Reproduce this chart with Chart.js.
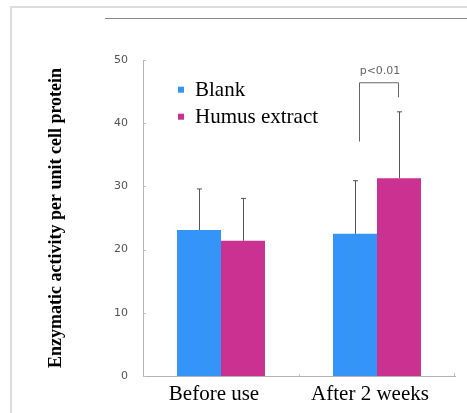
<!DOCTYPE html>
<html>
<head>
<meta charset="utf-8">
<script src="https://cdn.jsdelivr.net/npm/chart.js@4.4.1/dist/chart.umd.min.js"></script>
<style>
  html, body { margin: 0; padding: 0; background: #fff; }
  #wrap { width: 467px; height: 413px; position: relative; }
</style>
</head>
<body>
<div id="wrap"><canvas id="chart" width="467" height="413"></canvas></div>
<script>
const categories = ["Before use", "After 2 weeks"];
const blankValues = [23.1, 22.5];
const humusValues = [21.4, 31.3];
const blankErrors = [6.5, 8.4];
const humusErrors = [6.7, 10.5];
const yTicks = [0, 10, 20, 30, 40, 50];
const sigLabel = "p<0.01";

const BLUE = "#3494f8";
const MAGENTA = "#cb3191";

// frame, separator line, error bars, significance bracket and legend
const extras = {
  id: "extras",
  beforeDraw(chart) {
    const c = chart.ctx;
    c.save();
    c.fillStyle = "#fff";
    c.fillRect(0, 0, chart.width, chart.height);
    c.strokeStyle = "#dcdcdc";
    c.lineWidth = 2;
    c.beginPath();
    c.moveTo(11, chart.height);
    c.lineTo(11, 7);
    c.lineTo(chart.width, 7);
    c.stroke();
    c.strokeStyle = "#8a8a8a";
    c.lineWidth = 1;
    c.beginPath();
    c.moveTo(105, 18.5);
    c.lineTo(chart.width, 18.5);
    c.stroke();
    c.restore();
  },
  afterDatasetsDraw(chart) {
    const c = chart.ctx;
    const y = chart.scales.y;
    const x = chart.scales.x;
    const errs = [blankErrors, humusErrors];
    c.save();

    // small axis ticks
    c.strokeStyle = "#c0c0c0";
    c.lineWidth = 1;
    c.beginPath();
    yTicks.forEach((v) => {
      const py = Math.round(y.getPixelForValue(v)) + 0.5;
      c.moveTo(x.left, py);
      c.lineTo(x.left + 3, py);
    });
    const mid = Math.round((x.left + x.right) / 2) + 0.5;
    c.moveTo(mid, y.bottom);
    c.lineTo(mid, y.bottom - 2);
    c.moveTo(x.right - 0.5, y.bottom);
    c.lineTo(x.right - 0.5, y.bottom - 3);
    c.stroke();

    c.strokeStyle = "#555";
    chart.data.datasets.forEach((ds, di) => {
      const meta = chart.getDatasetMeta(di);
      meta.data.forEach((bar, i) => {
        const px = Math.round(bar.x) + 0.5;
        const top = y.getPixelForValue(ds.data[i] + errs[di][i]);
        c.beginPath();
        c.moveTo(px, bar.y);
        c.lineTo(px, top);
        c.moveTo(px - 2.5, top);
        c.lineTo(px + 2.5, top);
        c.stroke();
      });
    });

    // significance bracket over the second category
    const b = chart.getDatasetMeta(0).data[1];
    const h = chart.getDatasetMeta(1).data[1];
    const xl = Math.round(b.x + 4) + 0.5;
    const xr = Math.round(h.x - 1) + 0.5;
    const yTop = y.getPixelForValue(46.4);
    c.strokeStyle = "#666";
    c.beginPath();
    c.moveTo(xl, y.getPixelForValue(37.1));
    c.lineTo(xl, yTop);
    c.lineTo(xr, yTop);
    c.lineTo(xr, y.getPixelForValue(44.1));
    c.stroke();
    c.fillStyle = "#666";
    c.font = "11px 'DejaVu Sans'";
    c.textAlign = "center";
    c.textBaseline = "alphabetic";
    c.fillText(sigLabel, (xl + xr) / 2 + 1, yTop - 9);

    // legend
    const lx = chart.chartArea.left + 35;
    const ly0 = y.getPixelForValue(45.3);
    c.font = "21px 'Liberation Serif'";
    c.textAlign = "left";
    c.textBaseline = "middle";
    chart.data.datasets.forEach((ds, di) => {
      const ly = ly0 + di * 27;
      c.fillStyle = ds.backgroundColor;
      c.fillRect(lx, ly - 3, 6, 6);
      c.fillStyle = "#000";
      c.fillText(ds.label, lx + 17, ly + 1);
    });
    c.restore();
  }
};

new Chart(document.getElementById("chart"), {
  type: "bar",
  data: {
    labels: categories,
    datasets: [
      { label: "Blank", data: blankValues, backgroundColor: BLUE },
      { label: "Humus extract", data: humusValues, backgroundColor: MAGENTA }
    ]
  },
  options: {
    responsive: false,
    animation: false,
    devicePixelRatio: 1,
    layout: { padding: { top: 60, right: 12, left: 0, bottom: 0 } },
    datasets: { bar: { categoryPercentage: 0.564, barPercentage: 1.0 } },
    plugins: { legend: { display: false }, tooltip: { enabled: false } },
    scales: {
      x: {
        afterFit: (s) => { s.height = 37; },
        grid: { display: false, drawTicks: false },
        border: { color: "#b5b5b5", width: 1 },
        ticks: {
          color: "#000",
          font: { family: "'Liberation Serif'", size: 21 },
          padding: 6,
          labelOffset: -7
        }
      },
      y: {
        min: 0,
        max: 50,
        afterFit: (s) => { s.width = 143; },
        afterBuildTicks: (s) => { s.ticks = yTicks.map((v) => ({ value: v })); },
        grid: { display: false, drawTicks: false },
        border: { color: "#b5b5b5", width: 1 },
        ticks: {
          color: "#555",
          font: { family: "'DejaVu Sans'", size: 11 },
          padding: 15
        },
        title: {
          display: true,
          text: "Enzymatic activity per unit cell protein",
          color: "#000",
          font: { family: "'Liberation Serif'", size: 18, weight: "bold" },
          padding: { top: 46, bottom: 0 }
        }
      }
    }
  },
  plugins: [extras]
});
</script>
</body>
</html>
